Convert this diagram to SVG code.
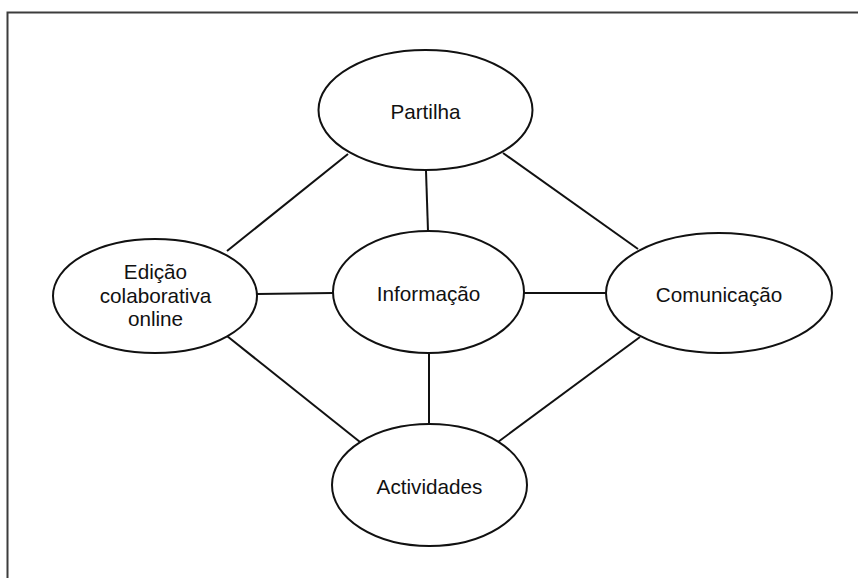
<svg xmlns="http://www.w3.org/2000/svg" width="858" height="578" viewBox="0 0 858 578">
  <style>
    .node ellipse { fill: #ffffff; stroke: #111111; stroke-width: 2; }
    .node text { font-family: "Liberation Sans", Arial, sans-serif; font-size: 20.7px; fill: #111111; text-anchor: middle; }
    .edges line { stroke: #111111; stroke-width: 2; }
    .frame { stroke: #3c3c3c; stroke-width: 2; fill: none; }
  </style>
  <rect x="0" y="0" width="858" height="578" fill="#ffffff"/>
  <path class="frame" d="M7.5,578 L7.5,12.5 L858,12.5"/>
  <g id="connectors" class="edges">
    <line x1="426" y1="171" x2="428" y2="231"/>
    <line x1="348" y1="154" x2="227" y2="251"/>
    <line x1="503" y1="153" x2="638" y2="249"/>
    <line x1="257" y1="294" x2="333" y2="293"/>
    <line x1="524" y1="293" x2="606" y2="293"/>
    <line x1="227" y1="336" x2="360" y2="442"/>
    <line x1="429" y1="353" x2="429" y2="424"/>
    <line x1="640" y1="337" x2="498" y2="442"/>
  </g>
  <g id="partilha" class="node">
    <ellipse cx="425.5" cy="110" rx="107" ry="60"/>
    <text x="425.5" y="119">Partilha</text>
  </g>
  <g id="edicao" class="node">
    <ellipse cx="155" cy="296" rx="102" ry="57"/>
    <text x="155.5" y="279">Edição</text>
    <text x="155.5" y="303">colaborativa</text>
    <text x="155.5" y="326">online</text>
  </g>
  <g id="informacao" class="node">
    <ellipse cx="428.5" cy="292" rx="95.5" ry="61"/>
    <text x="428.5" y="301">Informação</text>
  </g>
  <g id="comunicacao" class="node">
    <ellipse cx="719" cy="293" rx="113" ry="60"/>
    <text x="719" y="302">Comunicação</text>
  </g>
  <g id="actividades" class="node">
    <ellipse cx="429.5" cy="485" rx="97.5" ry="61"/>
    <text x="429.5" y="494">Actividades</text>
  </g>
</svg>
